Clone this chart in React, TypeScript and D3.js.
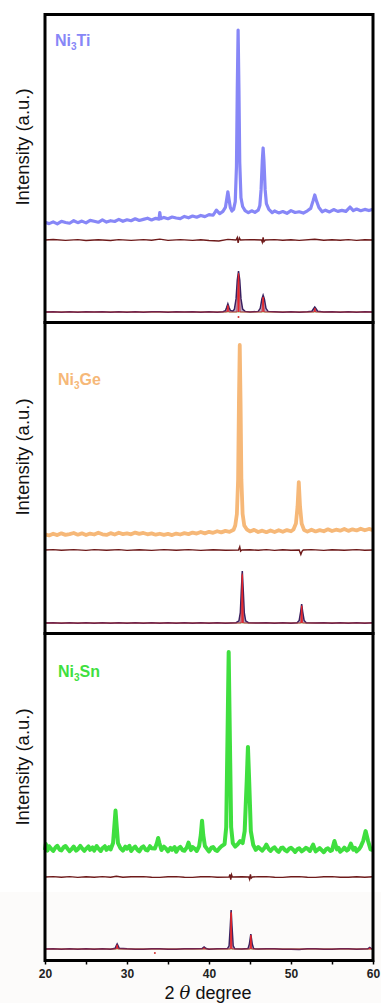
import React, { useEffect, useRef } from "react";
import * as d3 from "d3";

type P = [number, number];

// ---------- Ni3Ti ----------
const tiObs: P[] = [[20,1.4],[20.5,0.7],[21,1.6],[21.5,0.6],[22,1.9],[22.5,1.3],[23,0.9],[23.5,2.2],[24,1.2],[24.5,2.0],[25,1.1],[25.5,2.4],[26,1.9],[26.5,1.4],[27,2.6],[27.5,1.5],[28,2.2],[28.5,1.8],[29,2.9],[29.5,1.9],[30,2.7],[30.5,2.2],[31,3.2],[31.5,2.3],[32,2.9],[32.5,3.5],[33,2.6],[33.5,3.4],[33.9,3.0],[34.0,6.4],[34.1,3.2],[34.5,3.9],[35,3.2],[35.5,4.1],[36,3.6],[36.5,3.3],[37,4.4],[37.5,3.7],[38,4.6],[38.5,4.0],[39,4.9],[39.5,4.3],[40,5.3],[40.5,5.0],[40.9,7.6],[41.3,5.8],[41.7,7.0],[42.0,9],[42.15,13],[42.3,17],[42.45,13],[42.6,9],[42.8,7.2],[43.0,8],[43.2,12],[43.35,30],[43.45,70],[43.55,100],[43.65,70],[43.75,32],[43.9,14],[44.1,9.5],[44.4,7.4],[44.8,6.3],[45.2,7.3],[45.6,6.5],[46.0,7.6],[46.2,10],[46.35,18],[46.5,33],[46.6,39.5],[46.7,33],[46.85,18],[47.0,11],[47.3,8],[47.7,6.3],[48,7.2],[48.5,6.2],[49,6.9],[49.5,6.0],[50,7.4],[50.5,6.4],[51,6.8],[51.5,6.1],[52,7.3],[52.4,8.5],[52.7,12.5],[52.9,15.4],[53.1,12.5],[53.4,9],[53.8,6.8],[54.2,7.6],[54.7,6.7],[55.2,7.9],[55.7,7.0],[56.2,7.5],[56.7,7.0],[57.2,9.2],[57.6,7.4],[58,8.2],[58.5,7.3],[59,8.0],[59.5,7.4],[60,8.1]];
const tiDiff: P[] = [[20,0],[21,0.5],[22.5,-0.4],[24,0.4],[25,-0.5],[26.5,0.3],[28,-0.5],[29,0.4],[30.5,-0.4],[32,0.4],[33,-0.3],[34,0.9],[35,-0.4],[36.5,0.4],[38,-0.4],[39,0.3],[40,-0.5],[41.2,-1.0],[42.3,0.6],[43.3,0],[43.45,2.5],[43.55,-2.8],[43.7,2.2],[43.85,0],[45,0.4],[46.4,0],[46.5,-2.2],[46.6,2.6],[46.7,-1.6],[46.85,0],[48,0.4],[49,-0.3],[50,0.3],[51,-0.4],[52.9,0.8],[54,-0.3],[55,0.3],[56,-0.3],[57,0.4],[58,-0.4],[59,0.3],[60,0]];
const tiFitObs: P[] = [[20,0],[21,0.6],[22,-0.4],[23,0.5],[24,-0.5],[25,0.4],[26,-0.3],[27,0.6],[28,-0.4],[29,0.5],[30,-0.5],[31,0.4],[32,-0.5],[33,0.6],[34,0.8],[35,-0.4],[36,0.5],[37,-0.3],[38,0.5],[39,-0.4],[40,0.5],[41,-0.4],[41.7,0.5],[42.0,3],[42.15,11],[42.3,20],[42.45,11],[42.6,4],[42.9,2],[43.1,7],[43.3,32],[43.45,78],[43.6,100],[43.75,78],[43.9,32],[44.1,7],[44.4,1.5],[45,0],[46.0,1.5],[46.25,9],[46.45,32],[46.6,41],[46.75,32],[46.95,9],[47.2,1.5],[48,0.5],[49,-0.4],[50,0.5],[51,-0.5],[52,0.5],[52.55,2],[52.75,8],[52.9,12],[53.05,8],[53.25,2],[54,0],[55,0.5],[56,-0.4],[57,0.5],[58,-0.4],[59,0.4],[60,0.3]];
const tiFitCalc: P[] = [[20,0],[42.15,0],[42.3,16],[42.45,0],[43.4,0],[43.52,60],[43.6,95],[43.68,60],[43.8,0],[46.45,0],[46.6,36],[46.75,0],[52.8,0],[52.9,9],[53.0,0],[60,0]];
const tiSticks: P[] = [[42.3,16],[43.6,92],[46.6,36],[52.9,9]];

// ---------- Ni3Ge ----------
const geObs: P[] = [[20,1.4],[20.5,0.8],[21,1.7],[21.5,1.0],[22,1.9],[22.5,1.1],[23,1.5],[23.5,2.1],[24,1.2],[24.5,1.9],[25,1.0],[25.5,1.8],[26,1.3],[26.5,2.2],[27,1.4],[27.5,1.1],[28,2.0],[28.5,1.3],[29,2.2],[29.5,1.5],[30,1.9],[30.5,1.4],[31,2.3],[31.5,1.6],[32,2.1],[32.5,1.4],[33,1.9],[33.5,1.2],[34,1.7],[34.5,1.1],[35,1.6],[35.5,1.0],[36,1.8],[36.5,1.3],[37,2.0],[37.5,1.5],[38,2.3],[38.5,1.8],[39,2.6],[39.5,1.9],[40,2.7],[40.5,2.2],[41,3.0],[41.5,2.4],[42,3.2],[42.5,2.7],[43.0,3.8],[43.2,6],[43.4,12],[43.55,30],[43.65,70],[43.75,100],[43.85,70],[43.95,30],[44.1,12],[44.3,6],[44.6,4.0],[45,2.9],[45.5,3.7],[46,2.6],[46.5,3.3],[47,2.5],[47.5,3.4],[48,2.6],[48.5,3.5],[49,2.7],[49.5,3.6],[50,3.0],[50.3,3.9],[50.6,7],[50.8,16],[50.95,28.6],[51.1,16],[51.3,7],[51.6,3.6],[52,2.8],[52.5,3.8],[53,2.9],[53.5,3.6],[54,3.0],[54.5,4.0],[55,3.1],[55.5,3.8],[56,3.3],[56.5,4.2],[57,3.2],[57.5,4.0],[58,3.4],[58.5,4.3],[59,3.5],[59.5,4.2],[60,3.6]];
const geDiff: P[] = [[20,0],[21,0.4],[22,-0.3],[23.5,0.4],[25,-0.4],[26,0.4],[27.5,-0.3],[29,0.4],[30,-0.4],[31.5,0.3],[33,-0.4],[34.5,0.4],[36,-0.3],[37.5,0.4],[39,-0.4],[40.5,0.3],[42,-0.3],[43.6,0],[43.75,3.2],[43.85,-1.2],[44.0,0],[45,0.3],[46,-0.3],[47,0.4],[48,-0.4],[49,0.3],[50,-0.3],[51.0,0],[51.2,-4.5],[51.35,-1.2],[51.5,0],[52.5,0.4],[54,-0.4],[55,0.3],[56.5,-0.3],[58,0.4],[59,-0.3],[60,0]];
const geFitObs: P[] = [[20,0],[21,0.5],[22,-0.4],[23,0.5],[24,-0.5],[25,0.4],[26,-0.3],[27,0.6],[28,-0.4],[29,0.5],[30,-0.5],[31,0.4],[32,-0.5],[33,0.5],[34,-0.3],[35,0.4],[36,-0.3],[37,0.5],[38,-0.4],[39,0.5],[40,-0.4],[41,0.5],[42,-0.3],[43.3,0.5],[43.65,4],[43.82,20],[43.94,62],[44.06,100],[44.18,62],[44.3,20],[44.47,4],[44.8,0.5],[46,0],[47,0.5],[48,-0.4],[49,0.5],[50,-0.4],[50.75,0.5],[51.0,5],[51.18,22],[51.3,36.5],[51.42,22],[51.6,5],[51.85,0.5],[53,0],[54,0.4],[55,-0.4],[56,0.5],[57,-0.4],[58,0.4],[59,-0.3],[60,0.4]];
const geFitCalc: P[] = [[20,0],[43.9,0],[44.0,55],[44.06,95],[44.12,55],[44.22,0],[51.18,0],[51.3,33],[51.42,0],[60,0]];
const geSticks: P[] = [[44.06,92],[51.3,33]];

// ---------- Ni3Sn ----------
const snObs: P[] = [[20,0.5],[20.1,3.5],[20.3,0.2],[20.5,2.4],[20.8,0.9],[21,0.0],[21.3,1.9],[21.5,2.6],[21.8,0.6],[22,0.3],[22.3,2.0],[22.5,2.5],[22.8,0.9],[23,-0.1],[23.3,1.2],[23.5,2.2],[23.8,0.2],[24,0.9],[24.3,2.6],[24.5,1.4],[24.8,0.1],[25,1.1],[25.3,2.3],[25.5,0.6],[25.8,1.8],[26,0.2],[26.3,2.5],[26.5,1.3],[26.8,0.0],[27,1.4],[27.3,2.4],[27.5,0.6],[27.8,1.9],[28,0.8],[28.3,4],[28.45,12],[28.6,20.3],[28.75,12],[28.9,4],[29.2,1.5],[29.5,0.2],[29.8,2.2],[30,1.2],[30.3,2.6],[30.5,0.0],[30.8,1.5],[31,2.2],[31.3,0.4],[31.5,-0.2],[31.8,1.8],[32,2.3],[32.3,0.6],[32.5,0.3],[32.8,2.4],[33,1.4],[33.4,1.2],[33.65,4],[33.8,6.5],[33.95,4],[34.2,0.5],[34.5,2.2],[34.8,1.0],[35,-0.2],[35.3,1.6],[35.5,0.6],[35.8,2.0],[36,-0.4],[36.3,1.5],[36.5,2.1],[36.8,0.3],[37,0.1],[37.3,1.8],[37.5,4.2],[37.8,0.4],[38,2.0],[38.3,1.0],[38.5,0.0],[38.8,2.5],[39.0,8],[39.15,15.2],[39.3,8],[39.5,2.5],[39.8,0.8],[40,-0.2],[40.3,1.7],[40.5,2.0],[40.8,0.4],[41,0.0],[41.3,1.5],[41.5,2.3],[41.9,3.5],[42.1,12],[42.25,55],[42.4,100],[42.55,55],[42.7,12],[42.9,4],[43.2,2.2],[43.5,3.4],[43.8,5.0],[44.1,4],[44.35,10],[44.6,35],[44.75,52.3],[44.9,35],[45.1,10],[45.4,3],[45.7,0.6],[46,2.0],[46.3,0.9],[46.5,0.2],[46.8,1.8],[47,3.2],[47.3,0.9],[47.5,0.0],[47.8,1.4],[48,1.8],[48.3,0.2],[48.5,-0.4],[48.8,1.5],[49,1.7],[49.3,0.3],[49.5,-0.2],[49.8,1.2],[50,1.6],[50.3,0.5],[50.5,-0.5],[50.8,1.0],[51,1.4],[51.3,-0.2],[51.5,0.4],[51.8,1.6],[52,1.2],[52.3,0.0],[52.7,3.2],[53,-0.2],[53.3,0.8],[53.5,1.5],[53.8,0.2],[54,-0.6],[54.3,1.0],[54.5,1.4],[54.8,0.0],[55,0.4],[55.3,5.0],[55.6,0.8],[55.8,1.6],[56,-0.4],[56.3,0.6],[56.5,1.7],[56.8,0.2],[57,0.8],[57.3,3.7],[57.6,0.6],[57.8,1.6],[58,-0.2],[58.3,1.0],[58.5,2.2],[58.8,5],[59.1,10],[59.4,5],[59.7,0.8],[60,0.4]];
const snDiff: P[] = [[20,0],[21,0.4],[22,-0.3],[23,0.4],[24,-0.4],[25,0.3],[26,-0.3],[27,0.4],[28,-0.3],[28.7,0.8],[29.5,-0.3],[30.5,0.3],[32,0.4],[33,-0.3],[34,-0.4],[35,0.3],[36,0.4],[37,-0.3],[38,-0.4],[39,0.3],[40,0.4],[41,-0.3],[42.45,0],[42.55,2.6],[42.65,-2.6],[42.75,2.2],[42.85,0],[44,0.3],[44.85,0],[44.95,-2.2],[45.05,2.6],[45.15,-1.2],[45.3,0],[46,0.3],[47,0.4],[48,-0.3],[49,-0.4],[50,0.3],[51,0.4],[52,-0.3],[53,-0.4],[54,0.3],[55,0.4],[56,-0.3],[57,-0.3],[58,0.3],[59,-0.3],[60,0.3]];
const snFitObs: P[] = [[20,0],[21,0.7],[22,-0.5],[23,0.6],[24,-0.6],[25,0.5],[26,-0.4],[27,0.7],[28,-0.4],[28.55,2],[28.7,9],[28.8,13],[28.9,9],[29.05,2],[30,0.5],[31,-0.4],[32,-0.6],[33,0.5],[34,0.6],[35,-0.5],[36,-0.4],[37,0.5],[38,0.6],[39.15,1],[39.4,5],[39.65,1],[40,-0.4],[41,0.5],[42.25,1],[42.45,8],[42.6,60],[42.7,100],[42.8,60],[42.95,8],[43.15,0.5],[44,0],[44.75,1],[44.92,12],[45.1,38.5],[45.28,12],[45.45,1],[46,0],[47,0.5],[48,0.6],[49,-0.4],[50,-0.5],[51,-1.5],[52,0.4],[53,0.5],[54,-0.5],[55,-0.4],[56,0.5],[57,0.4],[58,-0.4],[59.35,0.5],[59.6,4],[59.85,0.5],[60,0.2]];
const snFitCalc: P[] = [[20,0],[28.68,0],[28.8,11],[28.92,0],[42.6,0],[42.66,60],[42.7,95],[42.74,60],[42.8,0],[45.0,0],[45.1,35],[45.2,0],[60,0]];
const snSticks: P[] = [[28.8,10],[39.4,4],[42.7,92],[45.1,35],[59.6,3]];

const xTicks = [20, 25, 30, 35, 40, 45, 50, 55, 60];

type Panel = {
  name: string; sub: string; suffix: string; color: string; width: number;
  top: number; bottom: number;
  obs: P[]; obsRange: [number, number];
  diff: P[]; diffY: number;
  fitObs: P[]; fitCalc: P[]; sticks: P[]; fitRange: [number, number];
  labelX: number; labelY: number; ylabelY: number;
  dot?: P;
};

const panels: Panel[] = [
  { name: "Ni", sub: "3", suffix: "Ti", color: "#8787f7", width: 3.2, top: 14.5, bottom: 322.5,
    obs: tiObs, obsRange: [225, 30], diff: tiDiff, diffY: 240,
    fitObs: tiFitObs, fitCalc: tiFitCalc, sticks: tiSticks, fitRange: [312, 271],
    labelX: 55, labelY: 46, ylabelY: 147, dot: [43.6, -12] },
  { name: "Ni", sub: "3", suffix: "Ge", color: "#f6b878", width: 3.8, top: 322.5, bottom: 633.5,
    obs: geObs, obsRange: [537, 345], diff: geDiff, diffY: 550,
    fitObs: geFitObs, fitCalc: geFitCalc, sticks: geSticks, fitRange: [623, 571],
    labelX: 58, labelY: 385, ylabelY: 457 },
  { name: "Ni", sub: "3", suffix: "Sn", color: "#3fdf3f", width: 4, top: 633.5, bottom: 960.5,
    obs: snObs, obsRange: [851, 652], diff: snDiff, diffY: 877,
    fitObs: snFitObs, fitCalc: snFitCalc, sticks: snSticks, fitRange: [949, 910],
    labelX: 58, labelY: 677, ylabelY: 767, dot: [33.4, -10] },
];

export default function App() {
  const ref = useRef<SVGSVGElement>(null);
  useEffect(() => {
    const svg = d3.select(ref.current);
    svg.selectAll("*").remove();
    const W = 381, H = 1003;
    svg.append("rect").attr("width", W).attr("height", H).attr("fill", "#ffffff");
    svg.append("rect").attr("x", 0).attr("y", 892).attr("width", W).attr("height", H - 892).attr("fill", "#fcfbfa");

    const x = d3.scaleLinear().domain([20, 60]).range([45, 373]);
    const font = "'Liberation Sans', Arial, sans-serif";

    panels.forEach((p) => {
      const g = svg.append("g");
      const yObs = d3.scaleLinear().domain([0, 100]).range(p.obsRange);
      const yDiff = d3.scaleLinear().domain([-10, 10]).range([p.diffY + 10, p.diffY - 10]);
      const yFit = d3.scaleLinear().domain([0, 100]).range(p.fitRange);

      const lineObs = d3.line<P>().x(d => x(d[0])).y(d => yObs(d[1]));
      const lineDiff = d3.line<P>().x(d => x(d[0])).y(d => yDiff(d[1]));
      const lineFit = d3.line<P>().x(d => x(d[0])).y(d => yFit(d[1]));

      g.append("path").attr("d", lineObs(p.obs)).attr("fill", "none")
        .attr("stroke", p.color).attr("stroke-width", p.width).attr("stroke-linejoin", "round");

      g.append("path").attr("d", lineDiff(p.diff)).attr("fill", "none")
        .attr("stroke", "#6e1a1a").attr("stroke-width", 1.4);

      // fit sub-panel
      g.append("line").attr("x1", x(20)).attr("x2", x(60))
        .attr("y1", yFit(0)).attr("y2", yFit(0))
        .attr("stroke", "#9ab66e").attr("stroke-width", 1.2);
      g.append("path").attr("d", lineFit(p.fitObs)).attr("fill", "#5a3a80").attr("fill-opacity", 0.4)
        .attr("stroke", "#3a2060").attr("stroke-width", 1.5);
      g.append("path").attr("d", lineFit(p.fitCalc)).attr("fill", "#e0303a").attr("fill-opacity", 0.2)
        .attr("stroke", "#c8282e").attr("stroke-width", 0.8);
      g.selectAll("line.stick").data(p.sticks).enter().append("line")
        .attr("x1", d => x(d[0])).attr("x2", d => x(d[0]))
        .attr("y1", yFit(0)).attr("y2", d => yFit(d[1]))
        .attr("stroke", "#e8242a").attr("stroke-width", 1.3);
      if (p.dot) {
        g.append("circle").attr("cx", x(p.dot[0])).attr("cy", yFit(p.dot[1])).attr("r", 1)
          .attr("fill", "#d03030");
      }

      // frame
      g.append("rect").attr("x", 45).attr("y", p.top).attr("width", 328).attr("height", p.bottom - p.top)
        .attr("fill", "none").attr("stroke", "#000").attr("stroke-width", 3);

      // labels
      const t = g.append("text").attr("x", p.labelX).attr("y", p.labelY)
        .attr("font-family", font).attr("font-weight", "bold").attr("font-size", 16).attr("fill", p.color);
      t.append("tspan").text(p.name);
      t.append("tspan").attr("font-size", 10).attr("dy", 4).text(p.sub);
      t.append("tspan").attr("dy", -4).text(p.suffix);

      g.append("text").attr("transform", `translate(29,${p.ylabelY}) rotate(-90)`)
        .attr("text-anchor", "middle").attr("font-family", font).attr("font-size", 18.5)
        .attr("fill", "#111").text("Intensity (a.u.)");
    });

    // x axis
    const ax = svg.append("g").attr("transform", "translate(0,960.5)")
      .call(d3.axisBottom(x).tickValues(xTicks).tickSize(4).tickPadding(5)
        .tickFormat(d => (Number(d) % 10 === 0 ? String(d) : "")));
    ax.select(".domain").remove();
    ax.selectAll("line").attr("stroke", "#000").attr("stroke-width", 1.5);
    ax.selectAll("text").attr("font-family", font).attr("font-weight", "bold")
      .attr("font-size", 12).attr("fill", "#222");

    const xl = svg.append("text").attr("x", 208).attr("y", 998.5).attr("text-anchor", "middle")
      .attr("font-family", font).attr("font-size", 18).attr("fill", "#111");
    xl.append("tspan").text("2 ");
    xl.append("tspan").attr("font-family", "'DejaVu Serif', serif").attr("font-style", "italic").text("θ");
    xl.append("tspan").text(" degree");
  }, []);
  return (
    <svg ref={ref} width={381} height={1003}
      style={{ position: "absolute", left: 0, top: 0, display: "block" }} />
  );
}
